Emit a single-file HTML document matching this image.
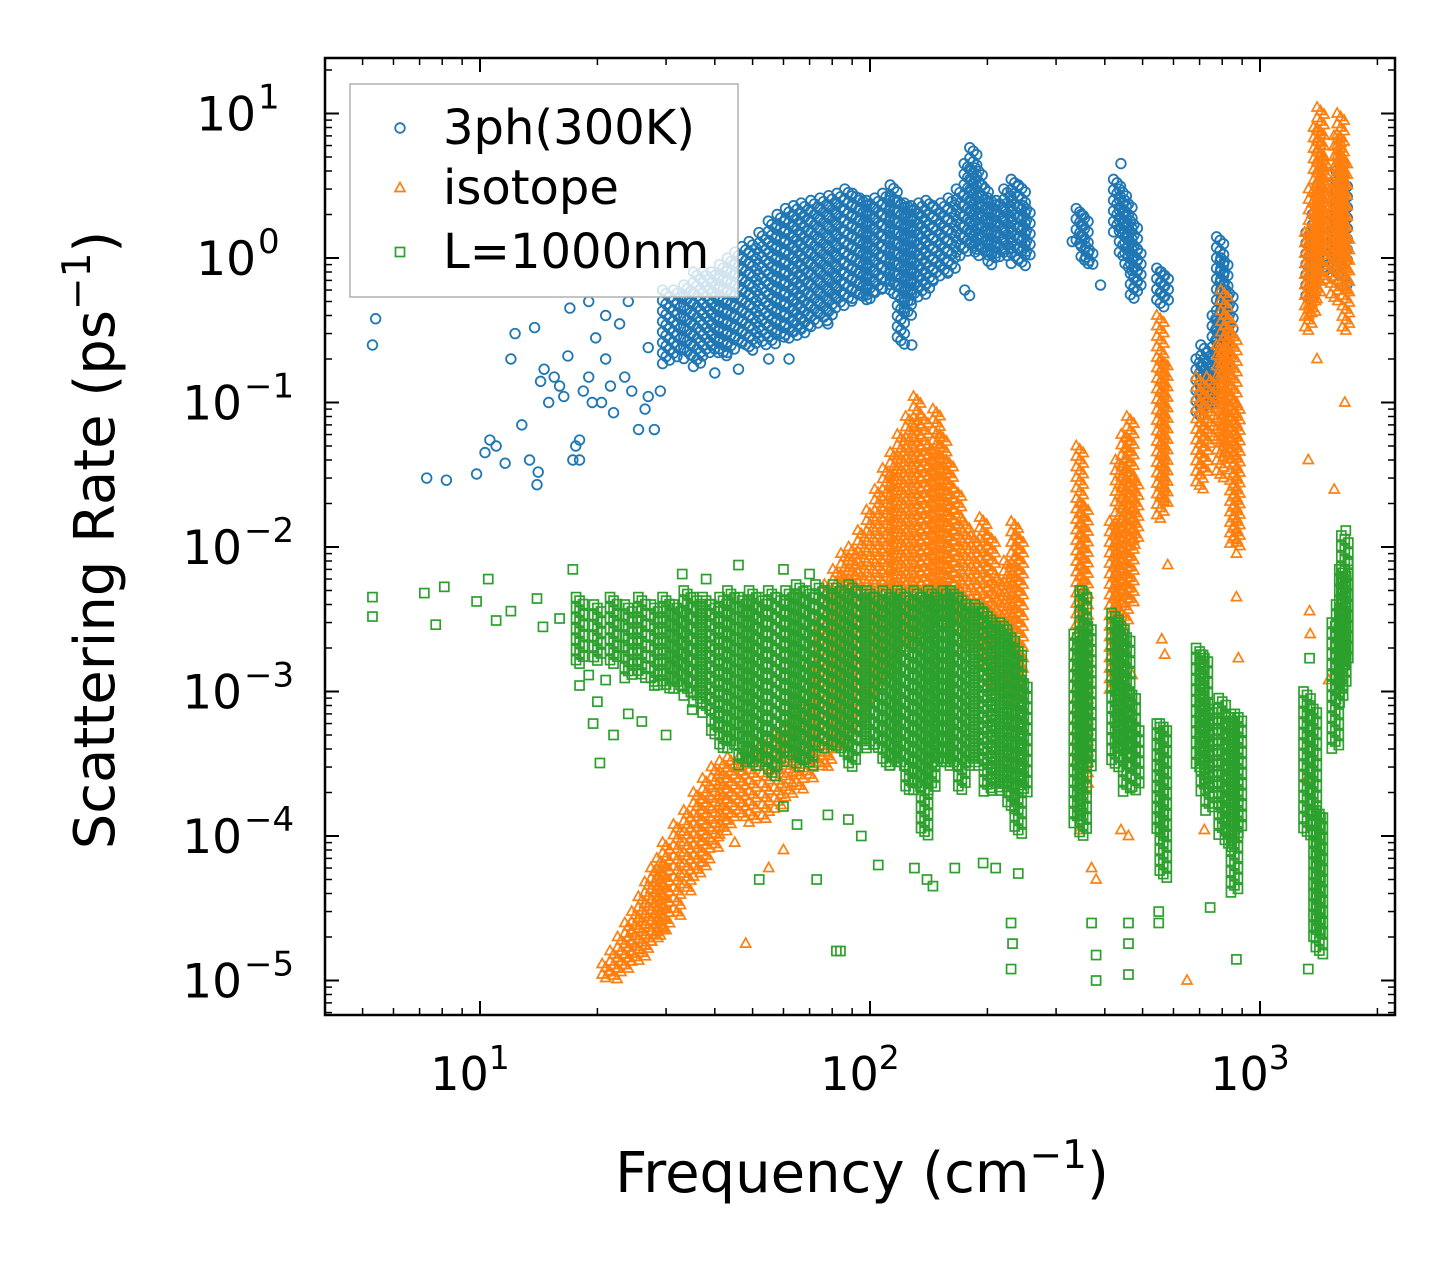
<!DOCTYPE html>
<html><head><meta charset="utf-8"><style>
body{margin:0;background:#fff;}
svg{display:block;font-family:"DejaVu Sans","Liberation Sans",sans-serif;}
</style></head><body>
<svg id="chart" width="1455" height="1265" viewBox="0 0 1455 1265">
<rect x="0" y="0" width="1455" height="1265" fill="#fff"/>
<g id="marks"></g>
<g id="axes"></g>
</svg>
<script>
// ---- data ----
const xTicks = [10, 100, 1000];
const xTickLabels = ["1", "2", "3"];
const yTicks = [10, 1, 0.1, 0.01, 0.001, 0.0001, 0.00001];
const yTickLabels = ["1", "0", "\u22121", "\u22122", "\u22123", "\u22124", "\u22125"];
// scattered points [freq, rate]
const bluePoints = [[5.3,0.25],[5.4,0.38],[7.3,0.03],[8.2,0.029],[9.8,0.032],[10.3,0.045],[10.6,0.055],[11,0.05],[11.6,0.038],[12,0.2],[12.3,0.3],[12.8,0.07],[13.4,0.04],[13.8,0.33],[14,0.027],[14.1,0.033],[14.3,0.14],[14.6,0.17],[15,0.1],[15.5,0.15],[16,0.13],[16.4,0.11],[16.8,0.21],[17.3,0.04],[17.6,0.05],[18,0.055],[18.4,0.12],[19,0.15],[19.4,0.1],[19.8,0.28],[20.5,0.1],[21,0.2],[21.6,0.13],[22,0.085],[22.8,0.35],[23.5,0.15],[24.5,0.12],[25.5,0.065],[26.5,0.09],[27,0.11],[28,0.065],[29,0.12],[17,0.45],[19,0.5],[21,0.4],[24,0.5],[18,0.04],[27,0.24],[40,0.16],[46,0.17],[55,0.2],[62,0.2],[78,0.35],[180,0.55],[175,0.6],[440,4.5],[390,0.65],[330,1.3],[1670,0.65],[128,0.25]];
const orangePoints = [[1330,0.04],[1550,0.025],[1650,0.1],[1400,0.2],[1340,0.0036],[1345,0.0025],[1320,0.00025],[1500,0.0012],[1640,0.0018],[870,0.0045],[880,0.0017],[720,0.00011],[850,0.0003],[860,0.0001],[470,0.0013],[460,0.0001],[560,0.0023],[570,0.0018],[440,0.00011],[345,0.00011],[370,0.00006],[380,0.00005],[580,0.0075],[870,0.009],[48,0.000018],[55,0.00006],[60,0.00008],[45,0.00009],[650,0.00001]];
const greenPoints = [[5.3,0.0045],[5.3,0.0033],[7.2,0.0048],[7.7,0.0029],[8.1,0.0053],[9.8,0.0042],[10.5,0.006],[11,0.0031],[12,0.0036],[14,0.0044],[14.5,0.0028],[16,0.0032],[17.3,0.007],[18,0.0011],[19,0.0013],[19.5,0.0006],[20.3,0.00032],[20,0.00085],[21,0.0012],[22,0.0005],[24,0.0007],[26,0.00062],[28,0.0011],[30,0.0005],[32,0.0016],[35,0.00075],[52,0.00005],[60,0.00016],[65,0.00012],[73,0.00005],[78,0.00014],[82,0.000016],[84,0.000016],[88,0.00013],[95,0.0001],[105,0.000063],[130,0.00006],[140,0.00005],[145,0.000045],[165,0.00006],[195,0.000065],[210,0.00006],[230,0.000012],[230,0.000025],[232,0.000018],[240,0.000055],[380,0.00001],[380,0.000015],[370,0.000025],[460,0.000011],[460,0.000018],[460,0.000025],[550,0.000025],[550,0.00003],[745,0.000032],[870,0.000014],[1330,0.000012],[1340,0.0017],[1680,0.008],[1660,0.013],[360,0.0045],[350,0.005],[46,0.0075],[60,0.007],[70,0.0065],[38,0.006],[33,0.0065]];
// dense vertical bands [freq, lowRate, highRate]
const blueBands = [[30,0.18,0.6],[32,0.2,0.6],[34,0.2,0.65],[36,0.17,0.8],[38,0.2,0.8],[40,0.22,0.8],[42,0.2,0.9],[44,0.22,1.0],[46,0.25,1.1],[48,0.25,1.2],[50,0.23,1.3],[53,0.25,1.5],[56,0.25,1.8],[59,0.27,2.0],[62,0.27,2.2],[65,0.28,2.3],[68,0.3,2.4],[72,0.32,2.5],[76,0.35,2.6],[80,0.4,2.7],[84,0.45,2.8],[88,0.5,3.0],[92,0.5,2.8],[96,0.5,2.6],[100,0.5,2.5],[105,0.55,2.6],[110,0.6,2.8],[115,0.55,3.2],[120,0.25,2.5],[125,0.4,2.4],[130,0.5,2.3],[136,0.55,2.4],[142,0.6,2.5],[148,0.7,2.3],[155,0.75,2.4],[162,0.8,2.6],[170,1.0,3.0],[178,1.1,4.5],[184,1.1,5.8],[190,1.0,4.2],[197,1.0,3.2],[205,0.9,2.6],[215,1.0,2.5],[225,1.0,3.0],[235,0.9,3.5],[245,0.85,3.2],[252,1.0,2.3],[345,1.2,2.2],[355,0.9,2.0],[365,0.9,1.2],[430,1.5,3.5],[445,1.0,3.0],[460,0.8,2.5],[475,0.5,1.8],[485,0.6,1.2],[555,0.45,0.85],[570,0.5,0.8],[700,0.08,0.2],[720,0.09,0.25],[745,0.1,0.22],[770,0.1,0.4],[790,0.15,1.4],[810,0.15,1.0],[835,0.3,0.6],[1340,0.5,1.5],[1390,0.8,2.0],[1430,0.8,1.6],[1560,0.7,2.0],[1600,1.0,4.0],[1640,0.9,3.5]];
const orangeBands = [[21,0.00001,0.000013],[22,0.00001,0.000016],[23,0.000011,0.00002],[24,0.000012,0.000025],[25,0.000013,0.00003],[26,0.000014,0.000038],[27,0.000016,0.000048],[28,0.000018,0.00006],[29,0.00002,0.00007],[30,0.000022,0.00009],[32,0.000028,0.00012],[34,0.00004,0.00015],[36,0.00005,0.0002],[38,0.00006,0.00025],[40,0.00008,0.0003],[42,0.0001,0.00033],[44,0.00012,0.00035],[47,0.00013,0.00035],[50,0.00012,0.0004],[54,0.00013,0.00045],[58,0.00015,0.0005],[62,0.00018,0.0006],[66,0.0002,0.0009],[70,0.00025,0.0015],[74,0.0003,0.003],[78,0.0003,0.0055],[82,0.0004,0.007],[86,0.0004,0.009],[90,0.0005,0.01],[95,0.0006,0.013],[100,0.0008,0.018],[105,0.001,0.025],[110,0.0012,0.035],[115,0.0015,0.045],[120,0.002,0.06],[126,0.002,0.08],[132,0.002,0.11],[138,0.0025,0.08],[143,0.003,0.05],[148,0.003,0.09],[154,0.003,0.06],[160,0.003,0.04],[168,0.003,0.025],[176,0.002,0.015],[185,0.002,0.012],[195,0.0015,0.016],[205,0.001,0.012],[215,0.001,0.006],[225,0.0009,0.008],[235,0.0008,0.015],[242,0.0009,0.012],[345,0.0003,0.05],[355,0.0002,0.02],[420,0.001,0.015],[435,0.002,0.04],[450,0.003,0.06],[465,0.004,0.08],[478,0.01,0.03],[555,0.015,0.4],[568,0.02,0.2],[700,0.025,0.15],[720,0.03,0.12],[745,0.05,0.15],[790,0.03,0.25],[810,0.05,0.6],[830,0.04,0.4],[855,0.01,0.3],[870,0.01,0.1],[1330,0.3,1.5],[1360,0.4,3.0],[1400,0.5,8],[1430,1.0,11],[1450,0.7,5],[1550,0.5,3],[1580,0.8,7],[1610,1.0,10],[1640,0.6,5],[1660,0.3,1.5]];
const greenBands = [[18,0.0015,0.0045],[20,0.0016,0.004],[22,0.0015,0.0045],[24,0.0012,0.004],[26,0.0012,0.0045],[28,0.0011,0.004],[30,0.001,0.0045],[32,0.001,0.004],[34,0.0009,0.005],[36,0.0008,0.0045],[38,0.0007,0.0045],[40,0.0005,0.004],[42,0.0004,0.0045],[44,0.0004,0.005],[47,0.0003,0.0045],[50,0.0003,0.005],[53,0.0003,0.0045],[56,0.00025,0.005],[59,0.0003,0.0045],[62,0.00035,0.005],[66,0.0003,0.0055],[70,0.0003,0.005],[74,0.0004,0.0055],[78,0.0004,0.005],[82,0.0004,0.0055],[86,0.00035,0.005],[90,0.0003,0.0055],[95,0.0004,0.005],[100,0.0004,0.005],[105,0.0004,0.0045],[110,0.0003,0.005],[115,0.0003,0.0045],[120,0.0003,0.005],[126,0.0002,0.0045],[132,0.0002,0.005],[138,0.0001,0.0045],[144,0.0002,0.005],[150,0.0003,0.0045],[157,0.0003,0.005],[164,0.0003,0.005],[172,0.0002,0.0045],[180,0.0003,0.004],[190,0.0003,0.004],[200,0.0002,0.0035],[210,0.0002,0.003],[220,0.0002,0.003],[230,0.00015,0.0025],[240,0.0001,0.002],[248,0.0002,0.0012],[340,0.00012,0.0025],[352,0.0001,0.005],[362,0.0003,0.003],[425,0.0003,0.0035],[440,0.0004,0.003],[455,0.0002,0.0025],[470,0.0003,0.001],[480,0.0002,0.0006],[555,0.0001,0.0006],[565,0.00005,0.0006],[700,0.0003,0.002],[720,0.0002,0.0018],[740,0.00015,0.0008],[800,0.0001,0.0009],[830,0.00008,0.0007],[860,0.00004,0.0007],[880,0.0001,0.0007],[1320,0.0001,0.001],[1370,0.00015,0.0008],[1400,0.00002,0.00015],[1420,0.000015,0.00015],[1560,0.0004,0.003],[1600,0.0008,0.004],[1630,0.001,0.007],[1650,0.0015,0.012]];

// ---- axes ----
const PX0=325, PX1=1395, PY0=58, PY1=1015;
function xs(f){return 480+390*(Math.log10(f)-1);}
function ys(r){return 258-144.5*Math.log10(r);}
const NS="http://www.w3.org/2000/svg";
function mk(tag,attrs,parent){const e=document.createElementNS(NS,tag);for(const k in attrs)e.setAttribute(k,attrs[k]);parent.appendChild(e);return e;}
const marks=document.getElementById('marks');
const axes=document.getElementById('axes');
const C={blue:"#1f77b4",orange:"#ff7f0e",green:"#2ca02c"};
function marker(kind,x,y,parent){
  let e;
  if(kind==="blue"){e=mk('circle',{cx:x,cy:y,r:4.8,fill:"none",stroke:C.blue,"stroke-width":1.8},parent);}
  else if(kind==="orange"){e=mk('polygon',{points:`${x},${y-5.5} ${x+5},${y+3.5} ${x-5},${y+3.5}`,fill:"none",stroke:C.orange,"stroke-width":1.7},parent);}
  else {e=mk('rect',{x:x-4.5,y:y-4.5,width:9,height:9,fill:"none",stroke:C.green,"stroke-width":1.7},parent);}
  return e;
}
function drawSeries(kind,points,bands){
  const g=mk('g',{},marks);
  
  
  bands.forEach(b=>{
    const x=xs(b[0]), yl=ys(b[1]), yh=ys(b[2]);
    let k=0;
    for(let y=yh;y<=yl;y+=3.5){
      const off=(k%3-1)*3.5; k++;
      const m=marker(kind,x+off,y,g);
      
      
    }
  });
  points.forEach(p=>{
    const m=marker(kind,xs(p[0]),ys(p[1]),g);
    
    
  });
}
drawSeries("blue",bluePoints,blueBands);
drawSeries("orange",orangePoints,orangeBands);
drawSeries("green",greenPoints,greenBands);

// frame
const fr=mk('rect',{x:PX0,y:PY0,width:PX1-PX0,height:PY1-PY0,fill:"none",stroke:"#000","stroke-width":2.5},axes);


for(let d=0; d<=4; d++){
  for(let m=1;m<=9;m++){
    const f=m*Math.pow(10,d);
    const x=xs(f); if(x<PX0||x>PX1) continue;
    const L=m===1?14:7, w=m===1?2:1.5;
    const t1=mk('line',{x1:x,y1:PY1,x2:x,y2:PY1-L,stroke:"#000","stroke-width":w},axes);
    
    
    const t2=mk('line',{x1:x,y1:PY0,x2:x,y2:PY0+L,stroke:"#000","stroke-width":w},axes);
    
    
  }
}
xTicks.forEach((f,i)=>{
  const t=mk('text',{x:xs(f)-10,y:1090,"font-size":46,"text-anchor":"middle",fill:"#000"},axes);
  
  
  t.innerHTML=`10<tspan dy="-21" font-size="33">${xTickLabels[i]}</tspan>`;
});
for(let d=-6; d<=1; d++){
  for(let m=1;m<=9;m++){
    const r=m*Math.pow(10,d);
    const y=ys(r); if(y<PY0||y>PY1) continue;
    const L=m===1?14:7, w=m===1?2:1.5;
    const t1=mk('line',{x1:PX0,y1:y,x2:PX0+L,y2:y,stroke:"#000","stroke-width":w},axes);
    
    
    const t2=mk('line',{x1:PX1,y1:y,x2:PX1-L,y2:y,stroke:"#000","stroke-width":w},axes);
    
    
  }
}
yTicks.forEach((r,i)=>{
  const neg=yTickLabels[i].length>1;
  const t=mk('text',{x:neg?242:256,y:ys(r)+17,"font-size":47,"text-anchor":"end",fill:"#000"},axes);
  
  
  t.textContent="10";
  const s=mk('text',{x:neg?244:258,y:ys(r)-5,"font-size":34,"text-anchor":"start",fill:"#000"},axes);
  
  
  s.textContent=yTickLabels[i];
});
// titles
const xt=mk('text',{x:862,y:1192,"font-size":56,"text-anchor":"middle",fill:"#000"},axes);


xt.innerHTML='Frequency (cm<tspan dy="-24" font-size="39">\u22121</tspan><tspan dy="24">)</tspan>';
const yt=mk('text',{x:0,y:0,"font-size":56,"text-anchor":"middle",fill:"#000",transform:"translate(114,540) rotate(-90)"},axes);


yt.innerHTML='Scattering Rate (ps<tspan dy="-24" font-size="39">\u22121</tspan><tspan dy="24">)</tspan>';
// legend
const lg=mk('g',{},axes);


const lb=mk('rect',{x:350,y:84,width:388,height:213,fill:"#fff","fill-opacity":0.8,stroke:"#b0b0b0","stroke-width":1.5},lg);


[["blue","3ph(300K)",128],["orange","isotope",188],["green","L=1000nm",252]].forEach(e=>{
  const m=marker(e[0],400,e[2],lg);
  
  
  const t=mk('text',{x:443,y:e[2]+16,"font-size":48,fill:"#000"},lg);
  
  
  t.textContent=e[1];
});
</script>
</body></html>
